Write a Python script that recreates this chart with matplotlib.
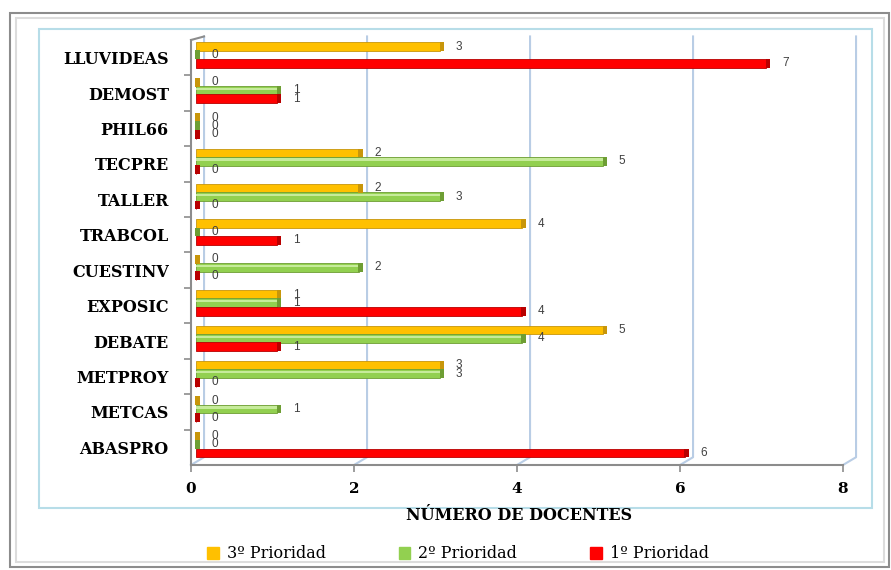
import numpy as np
import matplotlib
matplotlib.use("Agg")
import matplotlib.pyplot as plt
from matplotlib.patches import Rectangle, Patch

# datos (de abajo hacia arriba)
categorias = ["ABASPRO", "METCAS", "METPROY", "DEBATE", "EXPOSIC", "CUESTINV",
              "TRABCOL", "TALLER", "TECPRE", "PHIL66", "DEMOST", "LLUVIDEAS"]
prioridad3 = [0, 0, 3, 5, 1, 0, 4, 2, 2, 0, 0, 3]
prioridad2 = [0, 1, 3, 4, 1, 2, 0, 3, 5, 0, 1, 0]
prioridad1 = [6, 0, 0, 1, 4, 0, 1, 0, 0, 0, 1, 7]
nombres = ["3º Prioridad", "2º Prioridad", "1º Prioridad"]
xticks = [0, 2, 4, 6, 8]

W, H = 891, 570
fig = plt.figure(figsize=(W / 100, H / 100), dpi=100)
fig.patch.set_facecolor("white")

def px(x0, y0, x1, y1):
    return [x0 / W, 1 - y1 / H, (x1 - x0) / W, (y1 - y0) / H]

# marcos exteriores
fig.add_artist(Rectangle((10 / W, 1 - 567 / H), 879 / W, 554 / H, transform=fig.transFigure,
                         fill=False, ec="#8c8c8c", lw=1.5))
fig.add_artist(Rectangle((16 / W, 1 - 562 / H), 868 / W, 544 / H, transform=fig.transFigure,
                         fill=False, ec="#dcdcdc", lw=1.5))
fig.add_artist(Rectangle((39 / W, 1 - 508 / H), 833 / W, 479 / H, transform=fig.transFigure,
                         fill=False, ec="#b7dde8", lw=1.5))

ax = fig.add_axes(px(191, 40, 843, 465))
ax.set_xlim(0, 8)
ax.set_ylim(-0.5, 11.5)
ax.patch.set_alpha(0)

y = np.arange(len(categorias))
base = 0.06
alto = 0.25
series = [
    (prioridad3, 0.31, "#ffc000", "#c8960a"),
    (prioridad2, 0.08, "#92d050", "#6e9e34"),
    (prioridad1, -0.16, "#ff0000", "#b80000"),
]

# rejilla con efecto 3D
dx, dy = 0.16, 0.22
for xv in xticks:
    ax.plot([xv, xv + dx, xv + dx], [-0.5, -0.5 + dy, 11.6], color="#b9cde5",
            lw=1.5, clip_on=False, zorder=0)

for vals, off, col, dark in series:
    ax.barh(y + off, vals, left=base, height=alto, color=col, edgecolor=dark,
            lw=0.6, zorder=3)
    ax.barh(y + off, [0.06] * len(vals), left=[base + v - 0.01 for v in vals],
            height=alto, color=dark, lw=0, zorder=4)
    for yi, v in zip(y, vals):
        ax.text(v + 0.25, yi + off, str(v), ha="left", va="center", fontsize=8.5,
                color="#404040", family="Liberation Sans", zorder=5)

# brillo de las barras verdes
ax.barh(y + 0.08 + alto * 0.18, prioridad2, left=base, height=alto * 0.25,
        color="#c6eb9a", lw=0, zorder=3.5)

ax.set_yticks(y)
ax.set_yticklabels(categorias, family="DejaVu Serif", fontweight="bold", fontsize=11.5)
ax.set_yticks(y[:-1] + 0.5, minor=True)
ax.tick_params(axis="y", which="major", length=0, pad=16)
ax.tick_params(axis="y", which="minor", length=5, color="#8c8c8c", width=1.2)
ax.set_xticks(xticks)
ax.set_xticklabels([str(v) for v in xticks], family="DejaVu Serif", fontweight="bold",
                   fontsize=11)
ax.tick_params(axis="x", length=5, color="#8c8c8c", width=1.2, pad=7)

for s in ["top", "right"]:
    ax.spines[s].set_visible(False)
for s in ["left", "bottom"]:
    ax.spines[s].set_color("#8c8c8c")
    ax.spines[s].set_linewidth(1.5)
ax.plot([0, dx], [11.5, 11.6], color="#8c8c8c", lw=1.5, clip_on=False)

fig.text(519 / W, 1 - 515 / H, "NÚMERO DE DOCENTES", ha="center", va="center",
         family="DejaVu Serif", fontweight="bold", fontsize=11.5)

handles = [Patch(facecolor=c, edgecolor=c) for _, _, c, _ in series]
fig.legend(handles, nombres, loc="center", bbox_to_anchor=(458 / W, 1 - 554 / H), ncol=3,
           frameon=False, prop={"family": "DejaVu Serif", "size": 11.5},
           handlelength=0.7, handleheight=0.7, handletextpad=0.5, columnspacing=4.6)

fig.savefig("out.png", dpi=100)
